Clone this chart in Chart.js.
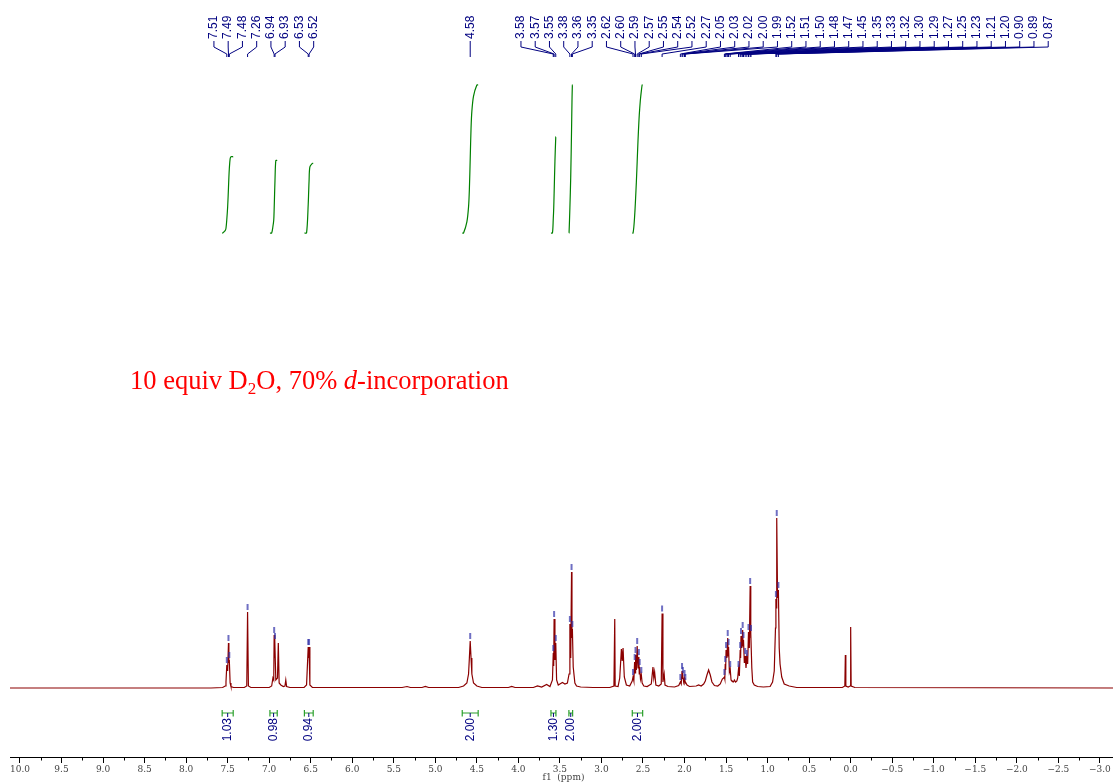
<!DOCTYPE html>
<html>
<head>
<meta charset="utf-8">
<script src="https://cdn.jsdelivr.net/npm/chart.js@4.4.0/dist/chart.umd.min.js"></script>
<style>
body { margin: 0; background: #fff; }
#wrap { width: 1113px; height: 783px; position: relative; }
</style>
</head>
<body>
<div id="wrap"><canvas id="chart"></canvas></div>
<script>
// 1H NMR trace: [ppm, intensity]
let aromatic = [
    [10.12, 0], [7.70, 0], [7.56, 0.5], [7.53, 2], [7.52, 6], [7.51, 23], [7.50, 17], [7.49, 45], [7.485, 25], [7.48, 28], [7.47, 5], [7.46, 1.5], [7.43, 0.5],
    [7.30, 0.5], [7.27, 2], [7.26, 76], [7.25, 2], [7.22, 0.5],
    [7.00, 0.5], [6.97, 2], [6.955, 10], [6.945, 8], [6.94, 53], [6.935, 30], [6.93, 47], [6.92, 8], [6.90, 10], [6.89, 45], [6.88, 5], [6.86, 3], [6.83, 1.5], [6.81, 2], [6.80, 8], [6.79, 1.5], [6.75, 0.5],
    [6.58, 0.5], [6.55, 3], [6.53, 41], [6.525, 30], [6.52, 41], [6.51, 3], [6.48, 0.5]
];
let midField = [
    [5.40, 0.5], [5.34, 1.5], [5.30, 0.5], [5.16, 0.5], [5.12, 1.5], [5.08, 0.5],
    [4.72, 0.5], [4.66, 2], [4.62, 5], [4.60, 14], [4.59, 30], [4.58, 47], [4.57, 30], [4.56, 14], [4.54, 5], [4.50, 2], [4.44, 0.5],
    [4.12, 0.5], [4.08, 1.5], [4.04, 0.5],
    [3.82, 0.5], [3.77, 2], [3.72, 1], [3.66, 3.5], [3.62, 1.5], [3.59, 8], [3.58, 35], [3.575, 22], [3.57, 69], [3.56, 28], [3.55, 45], [3.54, 8], [3.52, 3], [3.50, 4], [3.47, 5.5], [3.44, 4], [3.41, 5],
    [3.39, 14], [3.38, 64], [3.37, 30], [3.36, 116], [3.355, 50], [3.35, 59], [3.34, 21], [3.32, 5], [3.30, 2], [3.25, 1], [3.10, 0.5],
    [2.90, 0.5], [2.85, 2], [2.84, 69], [2.835, 2], [2.80, 1.5], [2.78, 10], [2.76, 39], [2.75, 27], [2.74, 40], [2.725, 11], [2.70, 3], [2.66, 2],
    [2.63, 7], [2.62, 11], [2.61, 7], [2.601, 26], [2.595, 15], [2.589, 33], [2.58, 18], [2.57, 42], [2.56, 20], [2.55, 31], [2.545, 14], [2.54, 21], [2.53, 9], [2.52, 13], [2.51, 5], [2.49, 2], [2.45, 1.5],
    [2.40, 4], [2.38, 21], [2.37, 10], [2.36, 16], [2.345, 3], [2.31, 2],
    [2.28, 4], [2.27, 74.5], [2.26, 6], [2.245, 14], [2.235, 3], [2.20, 1.5], [2.12, 1],
    [2.07, 2.5], [2.05, 6], [2.04, 4], [2.03, 17], [2.025, 9], [2.02, 13], [2.01, 6], [2.00, 10], [1.995, 5], [1.99, 6], [1.97, 3], [1.94, 1.5]
];
let aliphatic = [
    [1.86, 2], [1.83, 3], [1.80, 2], [1.77, 4], [1.75, 7], [1.73, 13], [1.71, 18], [1.69, 13], [1.67, 6], [1.64, 2.5], [1.60, 2],
    [1.57, 4], [1.545, 9], [1.53, 10], [1.52, 11], [1.515, 9], [1.51, 24], [1.505, 18], [1.50, 38], [1.49, 30], [1.48, 50], [1.475, 32], [1.47, 41], [1.46, 16], [1.45, 19], [1.44, 8], [1.43, 7], [1.41, 6], [1.40, 8], [1.385, 6], [1.37, 7], [1.36, 10],
    [1.35, 19], [1.34, 12], [1.33, 38], [1.325, 30], [1.32, 52], [1.31, 40], [1.30, 58], [1.295, 42], [1.29, 48], [1.28, 25], [1.27, 32], [1.26, 20], [1.25, 30], [1.24, 24], [1.23, 56], [1.22, 40], [1.21, 102], [1.205, 50], [1.20, 55], [1.19, 20], [1.18, 6], [1.16, 3], [1.12, 1.5], [1.05, 1],
    [0.97, 1.5], [0.94, 6], [0.92, 17], [0.905, 60], [0.90, 89], [0.895, 80], [0.89, 170], [0.88, 90], [0.87, 98], [0.86, 40], [0.85, 24], [0.83, 11], [0.80, 4], [0.74, 2], [0.65, 0.5],
    [0.10, 0.5], [0.07, 2], [0.064, 33], [0.058, 2], [0.03, 1], [0.006, 2], [0.0, 61], [-0.006, 2], [-0.05, 0.5], [-3.158, 0]
];

let peakLabels = [7.51, 7.49, 7.48, 7.26, 6.94, 6.93, 6.53, 6.52, 4.58,
    3.58, 3.57, 3.55, 3.38, 3.36, 3.35, 2.62, 2.60, 2.59, 2.57, 2.55, 2.54, 2.52, 2.27,
    2.05, 2.03, 2.02, 2.00, 1.99, 1.52, 1.51, 1.50, 1.48, 1.47, 1.45,
    1.35, 1.33, 1.32, 1.30, 1.29, 1.27, 1.25, 1.23, 1.21, 1.20, 0.90, 0.89, 0.87];
// where each block of stacked labels begins (ppm), null = right above its peak
let labelBlocks = [[0, 7, 7.665], [8, 8, null], [9, 46, 3.969]];

let integralFrom = [7.566, 6.991, 6.576, 4.676, 3.608, 3.392, 2.629];
let integralTo = [7.433, 6.903, 6.470, 4.484, 3.548, 3.347, 2.504];
let integralValues = [1.03, 0.98, 0.94, 2.00, 1.30, 2.00, 2.00];

let trace = aromatic.concat(midField, aliphatic);

function integralCurve(hi, lo, total) {
    let pts = trace.filter(p => p[0] <= hi && p[0] >= lo);
    let sum = 0;
    let cum = [0];
    for (let i = 1; i < pts.length; i++) {
        sum += (pts[i - 1][0] - pts[i][0]) * (pts[i - 1][1] + pts[i][1]) / 2;
        cum.push(sum);
    }
    let out = [{x: hi, y: 0}];
    for (let i = 0; i < pts.length; i++) {
        out.push({x: pts[i][0], y: cum[i] / sum * total});
    }
    out.push({x: lo, y: total});
    return out;
}

function peakAt(ppm) {
    let best = null;
    trace.forEach(p => {
        if (Math.abs(p[0] - ppm) < 0.0025 && (!best || p[1] > best[1])) best = p;
    });
    return best;
}

const navy = '#000080';

const extras = {
    id: 'extras',
    afterDatasetsDraw(chart) {
        const c = chart.ctx;
        const xs = chart.scales.x;
        const ys = chart.scales.y;
        const area = chart.chartArea;

        // minor ticks
        c.save();
        c.strokeStyle = '#000';
        c.lineWidth = 1;
        for (let v = -2.75; v < 10.1; v += 0.5) {
            let px = Math.round(xs.getPixelForValue(v)) + 0.5;
            c.beginPath();
            c.moveTo(px, area.bottom);
            c.lineTo(px, area.bottom + 3.5);
            c.stroke();
        }
        c.fillStyle = '#444';
        c.font = '9px "DejaVu Serif", serif';
        c.textAlign = 'center';
        c.textBaseline = 'middle';
        c.fillText('f1  (ppm)', (area.left + area.right) / 2 + 2, 778);
        c.restore();

        // peak pick markers
        c.save();
        c.strokeStyle = 'rgba(50,50,170,0.7)';
        c.lineWidth = 2;
        peakLabels.forEach(ppm => {
            let p = peakAt(ppm);
            if (!p) return;
            let px = xs.getPixelForValue(ppm);
            let py = ys.getPixelForValue(p[1]);
            c.beginPath();
            c.moveTo(px, py - 8);
            c.lineTo(px, py - 2);
            c.stroke();
        });
        c.restore();

        // peak labels with connectors
        c.save();
        c.strokeStyle = navy;
        c.fillStyle = navy;
        c.lineWidth = 1;
        c.font = '12px "Liberation Sans", Arial, sans-serif';
        c.textBaseline = 'middle';
        c.textAlign = 'left';
        labelBlocks.forEach(b => {
            let x0 = b[2] === null ? null : xs.getPixelForValue(b[2]);
            for (let i = b[0]; i <= b[1]; i++) {
                let ppm = peakLabels[i];
                let px = xs.getPixelForValue(ppm);
                let lx = x0 === null ? px : x0 + (i - b[0]) * 14.25;
                c.beginPath();
                c.moveTo(lx, 41);
                c.lineTo(lx, 47);
                c.lineTo(px, 54);
                c.lineTo(px, 57);
                c.stroke();
                c.save();
                c.translate(lx, 39);
                c.rotate(-Math.PI / 2);
                c.fillText(ppm.toFixed(2), 0, 0);
                c.restore();
            }
        });
        c.restore();

        // integration brackets below the trace
        c.save();
        c.font = '12px "Liberation Sans", Arial, sans-serif';
        c.textBaseline = 'middle';
        c.textAlign = 'right';
        integralFrom.forEach((hi, i) => {
            let x1 = xs.getPixelForValue(hi);
            let x2 = xs.getPixelForValue(integralTo[i]);
            let xm = (x1 + x2) / 2;
            c.strokeStyle = '#2ca02c';
            c.lineWidth = 1.2;
            c.beginPath();
            c.moveTo(x1, 713); c.lineTo(x2, 713);
            c.moveTo(x1, 710); c.lineTo(x1, 716.5);
            c.moveTo(x2, 710); c.lineTo(x2, 716.5);
            c.stroke();
            c.strokeStyle = navy;
            c.lineWidth = 1;
            c.beginPath();
            c.moveTo(xm, 713); c.lineTo(xm, 717);
            c.stroke();
            c.fillStyle = navy;
            c.save();
            c.translate(xm, 718);
            c.rotate(-Math.PI / 2);
            c.fillText(integralValues[i].toFixed(2), 0, 0);
            c.restore();
        });
        c.restore();

        // red annotation
        c.save();
        c.fillStyle = '#ff0000';
        c.textBaseline = 'alphabetic';
        c.textAlign = 'left';
        let tx = 130, ty = 389;
        const big = '26.5px "Liberation Serif", "Times New Roman", serif';
        const parts = [
            ['10 equiv D', big, 0],
            ['2', '17px "Liberation Serif", serif', 5],
            ['O, 70% ', big, 0],
            ['d', 'italic ' + big, 0],
            ['-incorporation', big, 0]
        ];
        parts.forEach(p => {
            c.font = p[1];
            c.fillText(p[0], tx, ty + p[2]);
            tx += c.measureText(p[0]).width;
        });
        c.restore();
    }
};

const ctx = document.getElementById('chart');

let datasets = [{
    data: trace.map(p => ({x: p[0], y: p[1]})),
    borderColor: '#8b0000',
    borderWidth: 1.2,
    pointRadius: 0,
    tension: 0,
    yAxisID: 'y'
}];
integralFrom.forEach((hi, i) => {
    datasets.push({
        data: integralCurve(hi, integralTo[i], integralValues[i]),
        borderColor: '#008000',
        borderWidth: 1.2,
        pointRadius: 0,
        tension: 0.3,
        yAxisID: 'yInt'
    });
});

new Chart(ctx, {
    type: 'line',
    data: { datasets: datasets },
    options: {
        animation: false,
        responsive: true,
        maintainAspectRatio: false,
        devicePixelRatio: 1,
        layout: { padding: { left: 10, right: 0, top: 0, bottom: 0 } },
        plugins: { legend: { display: false }, tooltip: { enabled: false } },
        scales: {
            x: {
                type: 'linear',
                reverse: true,
                min: -3.158,
                max: 10.12,
                afterFit: function (s) {
                    s.paddingLeft = 0;
                    s.paddingRight = 0;
                    s.height = 26;
                },
                border: { display: true, color: '#000', width: 1 },
                grid: { drawOnChartArea: false, drawTicks: true, tickLength: 6, tickColor: '#000' },
                ticks: {
                    stepSize: 0.5,
                    includeBounds: false,
                    autoSkip: false,
                    maxRotation: 0,
                    padding: 1,
                    color: '#444',
                    font: { family: '"DejaVu Serif", serif', size: 9 },
                    callback: v => (v < 0 ? '\u2212' : '') + Math.abs(v).toFixed(1)
                }
            },
            y: { display: false, min: -69, max: 688 },
            yInt: { display: false, min: -7.0811, max: 3.1486 }
        }
    },
    plugins: [extras]
});
</script>
</body>
</html>
